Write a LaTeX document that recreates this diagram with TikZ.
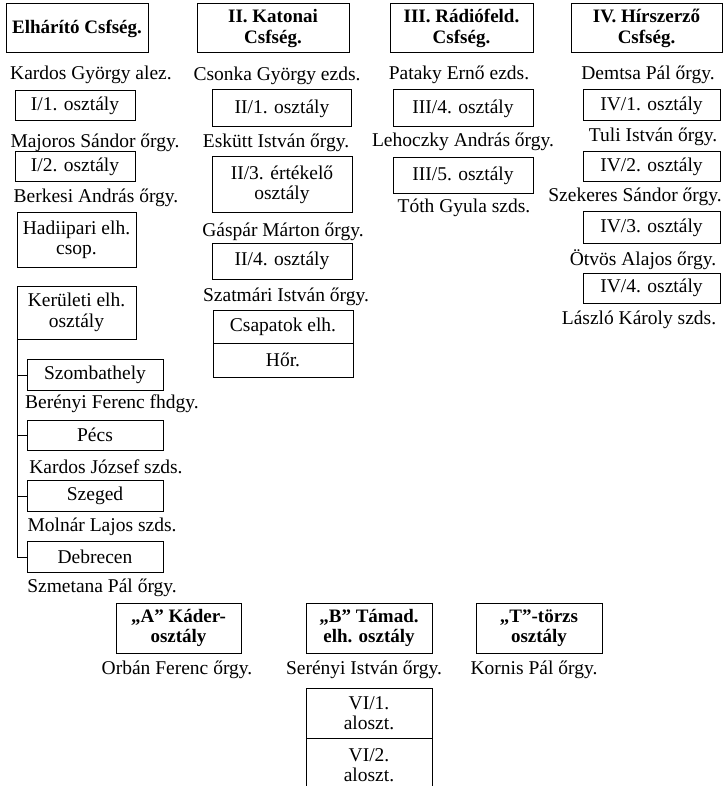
\documentclass[tikz,border=0pt]{standalone}
\usepackage{fontspec}
\setmainfont{Liberation Serif}
\begin{document}
\begin{tikzpicture}[x=1pt,y=-1pt,
  every node/.style={inner sep=0pt,outer sep=0pt,align=center,font=\fontsize{19.5}{20.5}\selectfont},
  bx/.style={draw,line width=1pt},
  hd/.style={bx,font=\fontsize{19}{20.5}\selectfont\bfseries},
  lbl/.style={},
  conn/.style={line width=1pt}]
\useasboundingbox (0,0) rectangle (727,786);
% Column 1
\node[hd,minimum width=142pt,minimum height=49pt] (elh) at (77,28.5) {Elhárító Csfség.};
\node[lbl] (kardos) at (91,75) {Kardos György alez.};
\node[bx,minimum width=120pt,minimum height=30pt] (i1) at (75,106) {I/1. osztály};
\node[lbl] (majoros) at (95,143) {Majoros Sándor őrgy.};
\node[bx,minimum width=120pt,minimum height=30pt] (i2) at (75,167) {I/2. osztály};
\node[lbl] (berkesi) at (96,198) {Berkesi András őrgy.};
\node[bx,minimum width=119pt,minimum height=54pt] (hadi) at (76.5,240) {Hadiipari elh.\\csop.};
\node[bx,minimum width=119pt,minimum height=53pt] (ker) at (76.5,312.5) {Kerületi elh.\\osztály};
\node[bx,minimum width=136pt,minimum height=31pt] (szo) at (95,375) {Szombathely};
\node[lbl] (berenyi) at (112,404) {Berényi Ferenc fhdgy.};
\node[bx,minimum width=136pt,minimum height=30pt] (pecs) at (95,435) {Pécs};
\node[lbl] (kardosj) at (106,467) {Kardos József szds.};
\node[bx,minimum width=136pt,minimum height=31pt] (szeg) at (95,496) {Szeged};
\node[lbl] (molnar) at (102,527) {Molnár Lajos szds.};
\node[bx,minimum width=136pt,minimum height=31pt] (deb) at (95,557) {Debrecen};
\node[lbl] (szmet) at (102,588) {Szmetana Pál őrgy.};
\draw[conn] (ker.south west) |- (deb.west);
\draw[conn] (ker.south west |- szo.west) -- (szo.west);
\draw[conn] (ker.south west |- pecs.west) -- (pecs.west);
\draw[conn] (ker.south west |- szeg.west) -- (szeg.west);
% Column 2
\node[hd,minimum width=152pt,minimum height=49pt] (kat) at (273,28.5) {II. Katonai\\Csfség.};
\node[lbl] (csonka) at (277,76) {Csonka György ezds.};
\node[bx,minimum width=139pt,minimum height=37pt] (ii1) at (282,108.5) {II/1. osztály};
\node[lbl] (eskutt) at (276,143) {Eskütt István őrgy.};
\node[bx,minimum width=140pt,minimum height=56pt] (ii3) at (282,185) {II/3. értékelő\\osztály};
\node[lbl] (gaspar) at (283,232) {Gáspár Márton őrgy.};
\node[bx,minimum width=140pt,minimum height=36pt] (ii4) at (282,261) {II/4. osztály};
\node[lbl] (szatmari) at (286,297) {Szatmári István őrgy.};
\node[bx,minimum width=140pt,minimum height=33pt] (csap) at (283,326.5) {Csapatok elh.};
\node[bx,minimum width=140pt,minimum height=34pt] (hor) at (283,360) {Hőr.};
% Column 3
\node[hd,minimum width=143pt,minimum height=49pt] (rad) at (461.5,28.5) {III. Rádiófeld.\\Csfség.};
\node[lbl] (pataky) at (459,75) {Pataky Ernő ezds.};
\node[bx,minimum width=140pt,minimum height=37pt] (iii4) at (463,108.5) {III/4. osztály};
\node[lbl] (lehoczky) at (463,142) {Lehoczky András őrgy.};
\node[bx,minimum width=140pt,minimum height=36pt] (iii5) at (463,176) {III/5. osztály};
\node[lbl] (toth) at (464,208) {Tóth Gyula szds.};
% Column 4
\node[hd,minimum width=151pt,minimum height=49pt] (hir) at (646.5,28.5) {IV. Hírszerző\\Csfség.};
\node[lbl] (demtsa) at (648,75) {Demtsa Pál őrgy.};
\node[bx,minimum width=137pt,minimum height=31pt] (iv1) at (651.5,105.5) {IV/1. osztály};
\node[lbl] (tuli) at (653,137) {Tuli István őrgy.};
\node[bx,minimum width=137pt,minimum height=30pt] (iv2) at (651.5,167) {IV/2. osztály};
\node[lbl] (szekeres) at (635,197) {Szekeres Sándor őrgy.};
\node[bx,minimum width=137pt,minimum height=31pt] (iv3) at (651.5,227.5) {IV/3. osztály};
\node[lbl] (otvos) at (643,260) {Ötvös Alajos őrgy.};
\node[bx,minimum width=137pt,minimum height=30pt] (iv4) at (651.5,288) {IV/4. osztály};
\node[lbl] (laszlo) at (639,320) {László Károly szds.};
% Bottom row
\node[hd,minimum width=125pt,minimum height=50pt] (a) at (178.5,628) {„A” Káder-\\osztály};
\node[lbl] (orban) at (177,670) {Orbán Ferenc őrgy.};
\node[hd,minimum width=126pt,minimum height=50pt] (b) at (369,628) {„B” Támad.\\elh. osztály};
\node[lbl] (serenyi) at (364,670) {Serényi István őrgy.};
\node[hd,minimum width=126pt,minimum height=50pt] (t) at (539,628) {„T”-törzs\\osztály};
\node[lbl] (kornis) at (534,670) {Kornis Pál őrgy.};
\node[bx,minimum width=126pt,minimum height=50pt] (vi1) at (369,713) {VI/1.\\aloszt.};
\node[bx,minimum width=126pt,minimum height=54pt] (vi2) at (369,765) {VI/2.\\aloszt.};
\end{tikzpicture}
\end{document}
